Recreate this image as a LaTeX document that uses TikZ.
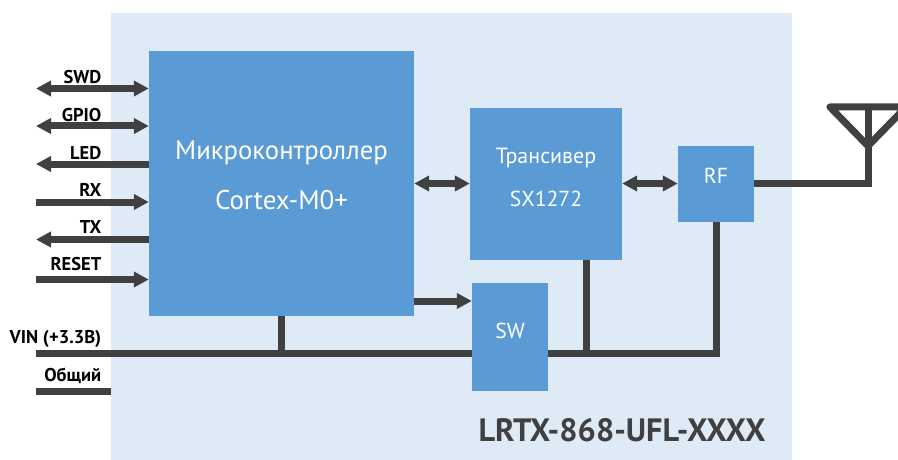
\documentclass[tikz,border=0pt]{standalone}
\usepackage{fontspec}
\setmainfont{PT Sans}
\usetikzlibrary{arrows.meta}
\definecolor{panelc}{HTML}{DEEAF6}
\definecolor{boxc}{HTML}{5B9BD5}
\definecolor{linec}{HTML}{404040}
\tikzset{
  block/.style={fill=boxc,draw=none,inner sep=0pt,text=white},
  blocktxt/.style={text=white,inner sep=0pt,anchor=base},
  wire/.style={draw=linec,line width=7pt},
  thead/.style={-{Triangle[length=15pt,width=15pt]}},
  dhead/.style={{Triangle[length=15pt,width=15pt]}-{Triangle[length=15pt,width=15pt]}},
  sig/.style={font=\bfseries\fontsize{18.5}{20}\selectfont,text=black,inner sep=0pt,anchor=base east},
}
\begin{document}
\begin{tikzpicture}[x=1pt,y=-1pt]
\useasboundingbox (0,0) rectangle (898,460);
\node[fill=panelc,inner sep=0pt,minimum width=681pt,minimum height=447pt] (panel) at (451.5,236.5) {};
\node[block,minimum width=265pt,minimum height=265pt] (mcu) at (281.5,183.5) {};
\node[block,minimum width=152pt,minimum height=152pt] (trx) at (546,184) {};
\node[block,minimum width=76pt,minimum height=76pt] (rf) at (716,184) {};
\node[block,minimum width=76pt,minimum height=108pt] (sw) at (510,337) {};
\coordinate (pswd) at (36,88.5);
\coordinate (pgpio) at (36,126);
\coordinate (pled) at (36,164);
\coordinate (prx) at (36,202);
\coordinate (ptx) at (36,239.5);
\coordinate (prst) at (36,279.5);
\coordinate (pvin) at (36,353);
\coordinate (pgnd) at (36,391);
\coordinate (jmcu) at (281.5,353);
\coordinate (jtrx) at (586,353);
\coordinate (jrf) at (716,353);
\coordinate (ant) at (868,183);
\coordinate (apex) at (868,146);
\coordinate (atop) at (868,107);
\coordinate (al) at (830,107);
\coordinate (ar) at (906,107);
\draw[wire,dhead] (pswd) -- (pswd -| mcu.west);
\draw[wire,dhead] (pgpio) -- (pgpio -| mcu.west);
\draw[wire,thead] (pled -| mcu.west) -- (pled);
\draw[wire,thead] (prx) -- (prx -| mcu.west);
\draw[wire,thead] (ptx -| mcu.west) -- (ptx);
\draw[wire,thead] (prst) -- (prst -| mcu.west);
\draw[wire] (pvin) -- (pvin -| sw.west);
\draw[wire] (pgnd) -- (pgnd -| panel.west);
\draw[wire] (jmcu |- mcu.south) -- (jmcu);
\draw[wire,dhead] (mcu.east |- 0,183.5) -- (trx.west |- 0,183.5);
\draw[wire,dhead] (trx.east |- 0,183.5) -- (rf.west |- 0,183.5);
\draw[wire,thead] (mcu.east |- 0,301) -- (sw.west |- 0,301);
\draw[wire] (jtrx |- trx.south) -- (jtrx);
\draw[wire,line join=miter] (sw.east |- jrf) -- (jrf) -- (rf.south -| jrf);
\draw[wire,line join=miter] (rf.east |- ant) -- (ant) -- (atop);
\draw[wire,line join=round,line cap=round] (apex) -- (al) -- (ar) -- cycle;
\node[sig] (lswd) at (101.5,84) {SWD};
\node[sig] (lgpio) at (101.5,121.7) {GPIO};
\node[sig] (lled) at (101.5,159.3) {LED};
\node[sig] (lrx) at (101.5,196.5) {RX};
\node[sig] (ltx) at (101.5,233.7) {TX};
\node[sig] (lrst) at (101.5,270.7) {RESET};
\node[sig] (lvin) at (101.5,343.5) {VIN (+3.3В)};
\node[sig] (lgnd) at (101.5,381.5) {Общий};
\node[blocktxt,font=\fontsize{26.7}{30}\selectfont] (t1) at (281.5,159) {Микроконтроллер};
\node[blocktxt,font=\fontsize{27}{30}\selectfont] (t2) at (281.5,209) {Cortex-M0+};
\node[blocktxt,font=\fontsize{22}{24}\selectfont] (t3) at (546,164) {Трансивер};
\node[blocktxt,font=\fontsize{21.7}{24}\selectfont] (t4) at (546,206) {SX1272};
\node[blocktxt,font=\fontsize{21.7}{24}\selectfont] (t5) at (716,183) {RF};
\node[blocktxt,font=\fontsize{21.7}{24}\selectfont] (t6) at (510,338) {SW};
\node[font=\bfseries\fontsize{32.3}{36}\selectfont,text=linec,inner sep=0pt,anchor=base] (title) at (622,441) {LRTX-868-UFL-XXXX};
\end{tikzpicture}
\end{document}
